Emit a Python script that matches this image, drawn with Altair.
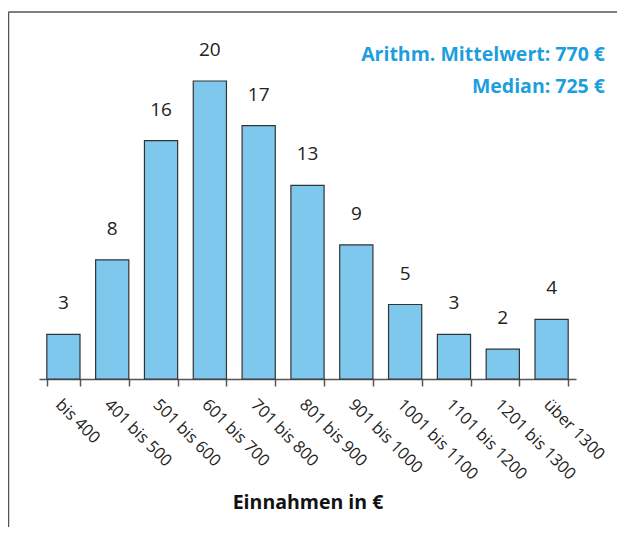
import altair as alt
import pandas as pd

categories = ["bis 400", "401 bis 500", "501 bis 600", "601 bis 700", "701 bis 800",
              "801 bis 900", "901 bis 1000", "1001 bis 1100", "1101 bis 1200",
              "1201 bis 1300", "über 1300"]
counts = [3, 8, 16, 20, 17, 13, 9, 5, 3, 2, 4]
notes = ["Arithm. Mittelwert: 770 €", "Median: 725 €"]
x_title = "Einnahmen in €"

df = pd.DataFrame({"cat": categories, "n": counts})

W, H = 537, 298
FONT = "Open Sans"
BLUE = "#1c9fdc"
GRAY = "#555555"

x_enc = alt.X(
    "cat:N", sort=categories,
    scale=alt.Scale(paddingInner=0.32, paddingOuter=0.16),
    axis=alt.Axis(
        title=x_title, labelAngle=45, labelAlign="left", labelBaseline="top",
        labelFontSize=16.5, labelColor="#222222", labelFont=FONT, labelPadding=10,
        tickBand="extent", tickSize=7, tickColor=GRAY, tickWidth=1.5,
        domainColor=GRAY, domainWidth=1.5,
        titleFontSize=19.5, titleFont=FONT, titleFontWeight="bold", titleColor="#111111",
        titleY=123, titleBaseline="middle",
    ),
)
y_enc = alt.Y("n:Q", scale=alt.Scale(domain=[0, 20]), axis=None)

bars = alt.Chart(df).mark_bar(fill="#7ec8ee", stroke="#333333", strokeWidth=1.2).encode(
    x=x_enc, y=y_enc
)
vals = alt.Chart(df).mark_text(
    dy=-31, baseline="middle", fontSize=19, font=FONT, color="#222222"
).encode(x=alt.X("cat:N", sort=categories), y=alt.Y("n:Q"), text="n:Q")

note_layers = []
for i, t in enumerate(notes):
    note_layers.append(
        alt.Chart(pd.DataFrame({"t": [t]})).mark_text(
            align="right", baseline="middle", fontSize=19.5, font=FONT,
            fontWeight="bold", color=BLUE
        ).encode(x=alt.value(W + 29), y=alt.value(-26 + 32 * i), text="t:N")
    )

frame_df = pd.DataFrame({"a": [0]})
left_line = alt.Chart(frame_df).mark_rule(color=GRAY, strokeWidth=1.5).encode(
    x=alt.value(-30.5), y=alt.value(-69), y2=alt.value(H + 170)
)
top_line = alt.Chart(frame_df).mark_rule(color=GRAY, strokeWidth=1.5).encode(
    x=alt.value(-30.5), x2=alt.value(W + 45), y=alt.value(-69)
)

chart = alt.layer(left_line, top_line, bars, vals, *note_layers).properties(
    width=W, height=H,
    autosize=alt.AutoSizeParams(type="none"),
    padding={"left": 31, "top": 73, "right": 41, "bottom": 148},
).configure_view(stroke=None)

chart.save("out.html", embed_options={"renderer": "svg", "actions": False})
